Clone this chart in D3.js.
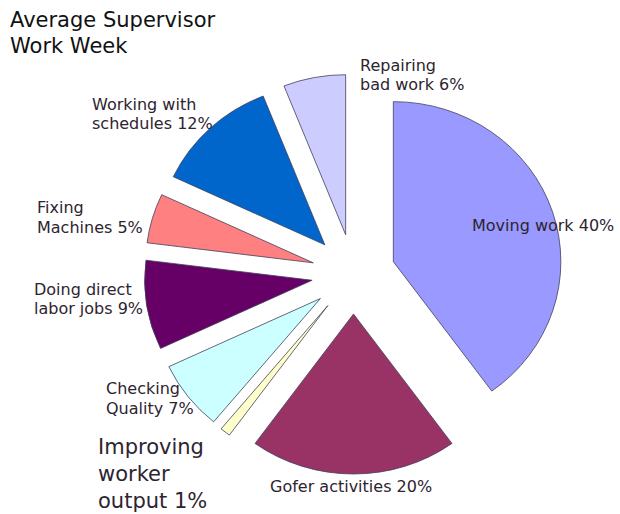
<!DOCTYPE html>
<html lang="en">
<head>
    <meta charset="UTF-8">
    <title>Average Supervisor Work Week</title>
    <script src="https://cdn.jsdelivr.net/npm/d3@7/dist/d3.min.js"></script>
    <style>
        body { margin: 0; background: #fff; }
        text { font-family: "DejaVu Sans", sans-serif; fill: #2e2430; }
        .title { fill: #111; }
    </style>
</head>
<body>
    <script>
        // Data, clockwise from 12 o'clock
        var categories = ["Moving work", "Gofer activities", "Improving worker output", "Checking Quality",
                          "Doing direct labor jobs", "Fixing Machines", "Working with schedules", "Repairing bad work"];
        var percents = [40, 20, 1, 7, 9, 5, 12, 6];
        var labelLines = [
            ["Moving work 40%"],
            ["Gofer activities 20%"],
            ["Improving", "worker", "output 1%"],
            ["Checking", "Quality 7%"],
            ["Doing direct", "labor jobs 9%"],
            ["Fixing", "Machines 5%"],
            ["Working with", "schedules 12%"],
            ["Repairing", "bad work 6%"]
        ];
        var colors = ["#9999ff", "#993366", "#ffffcc", "#ccffff", "#660066", "#ff8080", "#0066cc", "#ccccff"];

        // label layout: x, first baseline, font size, line height
        var labelLayout = [
            { x: 472, y: 231, size: 16, lh: 19 },
            { x: 270, y: 492, size: 16, lh: 19 },
            { x: 98,  y: 454, size: 21, lh: 27 },
            { x: 106, y: 394, size: 16, lh: 20 },
            { x: 34,  y: 295, size: 16, lh: 19 },
            { x: 37,  y: 213, size: 16, lh: 20 },
            { x: 92,  y: 110, size: 16, lh: 19 },
            { x: 360, y: 71,  size: 16, lh: 19 }
        ];

        var width = 620, height = 514;
        var cx = 353.5, cy = 274, radius = 160, explode = 40, stretchX = 1.047;

        var svg = d3.select("body").append("svg")
            .attr("width", width)
            .attr("height", height);

        svg.append("rect").attr("width", width).attr("height", height).attr("fill", "#fff");

        var pie = d3.pie().sort(null).value(d => d)(percents);
        var arc = d3.arc().innerRadius(0).outerRadius(radius);

        var g = svg.append("g")
            .attr("transform", "translate(" + cx + "," + cy + ") scale(" + stretchX + ",1)");

        g.selectAll("path")
            .data(pie)
            .enter().append("path")
            .attr("d", arc)
            .attr("transform", d => {
                var mid = (d.startAngle + d.endAngle) / 2;
                return "translate(" + (Math.sin(mid) * explode) + "," + (-Math.cos(mid) * explode) + ")";
            })
            .attr("fill", (d, i) => colors[i])
            .attr("stroke", "#40405a")
            .attr("stroke-width", 0.8)
            .attr("vector-effect", "non-scaling-stroke");

        // slice labels
        var labels = svg.selectAll(".label")
            .data(labelLines)
            .enter().append("text")
            .attr("class", "label")
            .attr("x", (d, i) => labelLayout[i].x)
            .attr("y", (d, i) => labelLayout[i].y)
            .attr("font-size", (d, i) => labelLayout[i].size);

        labels.each(function (lines, i) {
            var t = d3.select(this);
            lines.forEach((line, j) => {
                t.append("tspan")
                    .attr("x", labelLayout[i].x)
                    .attr("dy", j === 0 ? 0 : labelLayout[i].lh)
                    .text(line);
            });
        });

        // title
        var title = svg.append("text")
            .attr("class", "title")
            .attr("x", 10)
            .attr("y", 27)
            .attr("font-size", 21);
        title.append("tspan").attr("x", 10).text("Average Supervisor");
        title.append("tspan").attr("x", 10).attr("dy", 26).text("Work Week");
    </script>
</body>
</html>
